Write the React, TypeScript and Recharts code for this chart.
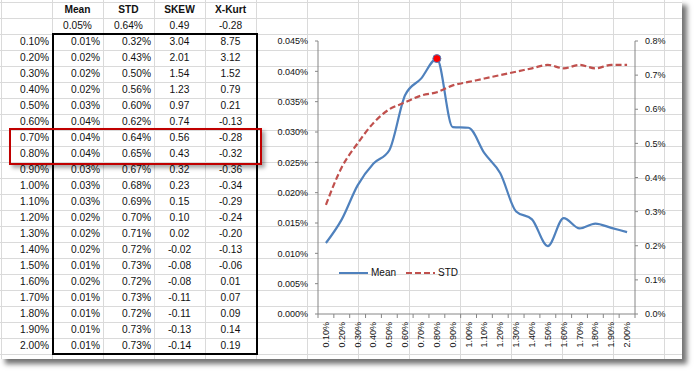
import React from "react";
import { LineChart, Line, XAxis, YAxis, Legend } from "recharts";

// thresholds (row labels / x categories)
const thresholds = [
  "0.10%", "0.20%", "0.30%", "0.40%", "0.50%", "0.60%", "0.70%", "0.80%", "0.90%", "1.00%",
  "1.10%", "1.20%", "1.30%", "1.40%", "1.50%", "1.60%", "1.70%", "1.80%", "1.90%", "2.00%",
];
// values in percent
const meanPct = [
  0.0117, 0.0156, 0.0212, 0.0248, 0.027, 0.0361, 0.0388, 0.0421, 0.0308, 0.0307,
  0.0265, 0.0232, 0.0169, 0.0156, 0.0112, 0.0158, 0.0141, 0.0149, 0.0142, 0.0135,
];
const stdPct = [
  0.32, 0.43, 0.5, 0.56, 0.6, 0.62, 0.64, 0.65, 0.67, 0.68,
  0.69, 0.7, 0.71, 0.72, 0.73, 0.72, 0.73, 0.72, 0.73, 0.73,
];
const skew = [
  3.04, 2.01, 1.54, 1.23, 0.97, 0.74, 0.56, 0.43, 0.32, 0.23,
  0.15, 0.1, 0.02, -0.02, -0.08, -0.08, -0.11, -0.11, -0.13, -0.14,
];
const xKurt = [
  8.75, 3.12, 1.52, 0.79, 0.21, -0.13, -0.28, -0.32, -0.36, -0.34,
  -0.29, -0.24, -0.2, -0.13, -0.06, 0.01, 0.07, 0.09, 0.14, 0.19,
];
const headers = ["Mean", "STD", "SKEW", "X-Kurt"];
const summary = ["0.05%", "0.64%", "0.49", "-0.28"];
const peakCategory = "0.80%";
const leftTicks = [0, 0.005, 0.01, 0.015, 0.02, 0.025, 0.03, 0.035, 0.04, 0.045];
const rightTicks = [0, 0.1, 0.2, 0.3, 0.4, 0.5, 0.6, 0.7, 0.8];

const data = thresholds.map((t, i) => ({ t, mean: meanPct[i], std: stdPct[i] }));

const BLUE = "#4f81bd";
const RED = "#c0504d";
const AXIS = "#868686";
const FONT = "'Liberation Sans', Arial, sans-serif";
const series = [
  { name: "Mean", color: BLUE, dash: undefined as string | undefined },
  { name: "STD", color: RED, dash: "6 3" },
];

const XTick = (props: any) => {
  const { x, y, payload, index, visibleTicksCount, width } = props;
  const off = payload.offset ?? width / visibleTicksCount / 2;
  const y0 = y - 8;
  return (
    <g>
      <line x1={x - off} x2={x - off} y1={y0} y2={y0 + 4} stroke={AXIS} />
      {index === visibleTicksCount - 1 && (
        <line x1={x + off} x2={x + off} y1={y0} y2={y0 + 4} stroke={AXIS} />
      )}
      <text
        transform={`translate(${x},${y}) rotate(-90)`}
        textAnchor="end"
        dominantBaseline="central"
        fontSize={9}
        fill="#111"
        fontFamily={FONT}
      >
        {payload.value}
      </text>
    </g>
  );
};

const PeakDot = (props: any) => {
  const { cx, cy, payload, index } = props;
  if (payload.t !== peakCategory) return <g key={`d${index}`} />;
  return <circle key={`d${index}`} cx={cx} cy={cy} r={4} fill="#ff0000" stroke={BLUE} strokeWidth={1} />;
};

const LegendBox = () => (
  <div style={{ display: "flex", alignItems: "center", fontFamily: FONT, fontSize: 10, color: "#111" }}>
    {series.map((s) => (
      <div key={s.name} style={{ display: "flex", alignItems: "center", marginRight: 10 }}>
        <svg width={30} height={6}>
          <line x1={0} x2={29} y1={3} y2={3} stroke={s.color} strokeWidth={2} strokeDasharray={s.dash} />
        </svg>
        <span style={{ marginLeft: 2 }}>{s.name}</span>
      </div>
    ))}
  </div>
);

const cell = (align: "left" | "right" | "center"): React.CSSProperties => ({
  height: 16,
  lineHeight: "16px",
  textAlign: align,
  paddingRight: align === "right" ? 3 : 0,
  boxSizing: "border-box",
  whiteSpace: "nowrap",
});

export default function App() {
  return (
    <div style={{ position: "absolute", left: 0, top: 0, width: 696, height: 375, background: "#fff", overflow: "hidden" }}>
      <div
        style={{
          position: "absolute",
          left: 0,
          top: 0,
          width: 682,
          height: 359,
          background: "#fff",
          backgroundImage:
            "linear-gradient(to right, transparent 50px, #dadada 50px), linear-gradient(to bottom, transparent 15px, #dadada 15px)",
          backgroundSize: "51px 100%, 100% 16px",
          backgroundPosition: "2px 0, 0 3px",
          boxShadow: "5px 5px 5px rgba(0,0,0,0.55)",
          fontFamily: FONT,
          color: "#111",
        }}
      >
        <div
          style={{
            position: "absolute",
            left: 0,
            top: 2,
            display: "grid",
            gridTemplateColumns: "52px 51px 51px 51px 51px",
            fontSize: 10.2,
          }}
        >
          <div style={cell("right")} />
          {headers.map((h) => (
            <div key={h} style={{ ...cell("center"), fontWeight: "bold" }}>{h}</div>
          ))}
          <div style={cell("right")} />
          {summary.map((s, i) => (
            <div key={i} style={cell("center")}>{s}</div>
          ))}
          {thresholds.map((t, i) => (
            <React.Fragment key={t}>
              <div style={cell("right")}>{t}</div>
              <div style={cell("right")}>{meanPct[i].toFixed(2)}%</div>
              <div style={cell("right")}>{stdPct[i].toFixed(2)}%</div>
              <div style={cell("center")}>{skew[i].toFixed(2)}</div>
              <div style={cell("center")}>{xKurt[i].toFixed(2)}</div>
            </React.Fragment>
          ))}
        </div>
        <div
          style={{ position: "absolute", left: 52, top: 33, width: 206, height: 322, border: "2px solid #000", boxSizing: "border-box" }}
        />
        <div
          style={{
            position: "absolute",
            left: 9,
            top: 128,
            width: 253,
            height: 37,
            border: "2px solid #c00000",
            boxSizing: "border-box",
            boxShadow: "3px 3px 4px rgba(0,0,0,0.35)",
          }}
        />
        <div style={{ position: "absolute", left: 270, top: 20 }}>
          <LineChart width={410} height={340} data={data} margin={{ top: 21, right: 0, bottom: 6, left: 0 }}>
            <XAxis
              dataKey="t"
              scale="band"
              interval={0}
              height={40}
              tickSize={0}
              tickMargin={8}
              tickLine={false}
              axisLine={{ stroke: AXIS }}
              tick={<XTick />}
            />
            <YAxis
              yAxisId="left"
              width={48}
              domain={[0, 0.045]}
              ticks={leftTicks}
              tickFormatter={(v: number) => `${v.toFixed(3)}%`}
              tick={{ fontSize: 9, fill: "#111", fontFamily: FONT }}
              tickSize={3}
              tickMargin={7}
              axisLine={{ stroke: AXIS }}
              tickLine={{ stroke: AXIS }}
            />
            <YAxis
              yAxisId="right"
              orientation="right"
              width={45}
              domain={[0, 0.8]}
              ticks={rightTicks}
              tickFormatter={(v: number) => `${v.toFixed(1)}%`}
              tick={{ fontSize: 9, fill: "#111", fontFamily: FONT, textAnchor: "start" }}
              tickSize={3}
              tickMargin={7}
              axisLine={{ stroke: AXIS }}
              tickLine={{ stroke: AXIS }}
            />
            <Legend
              layout="horizontal"
              verticalAlign="middle"
              align="center"
              content={() => <LegendBox />}
              wrapperStyle={{ position: "absolute", left: 69, top: 247, width: "auto" }}
            />
            <Line
              yAxisId="left"
              dataKey="mean"
              name="Mean"
              type="monotone"
              stroke={BLUE}
              strokeWidth={2.2}
              dot={<PeakDot />}
              activeDot={false}
              isAnimationActive={false}
            />
            <Line
              yAxisId="right"
              dataKey="std"
              name="STD"
              type="monotone"
              stroke={RED}
              strokeWidth={2.2}
              strokeDasharray="6 3"
              dot={false}
              activeDot={false}
              isAnimationActive={false}
            />
          </LineChart>
        </div>
      </div>
    </div>
  );
}
